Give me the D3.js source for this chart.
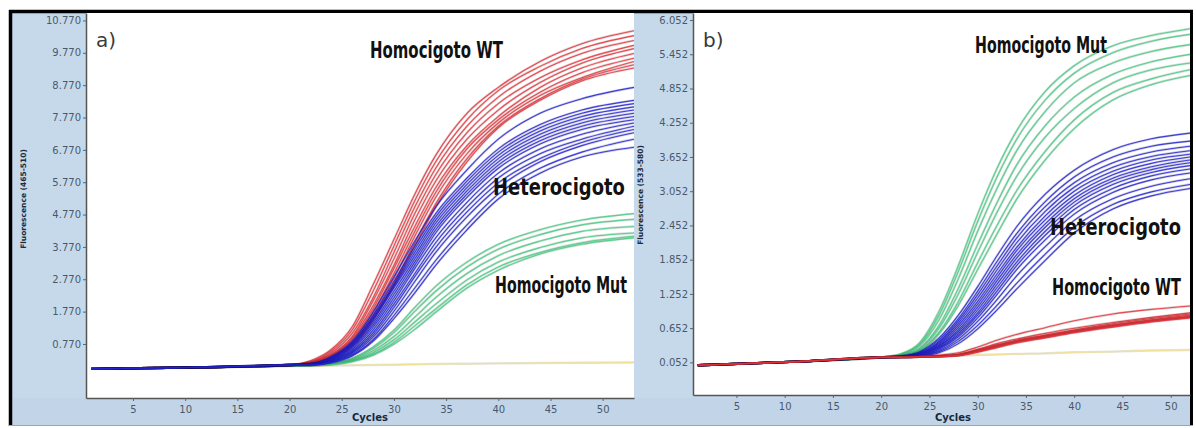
<!DOCTYPE html>
<meta charset="utf-8">
<style>
  body { margin: 0; padding: 0; background: #fff; }
  svg { display: block; }
  .tick text { font-family: "DejaVu Sans", sans-serif; font-size: 10px; fill: #4a596a; }
  .tick line { stroke: #5a6470; }
  .label { font-family: "DejaVu Sans", sans-serif; font-weight: bold; fill: #111; }
</style>
<body>
<svg id="vis"></svg>
<script src="https://d3js.org/d3.v7.min.js"></script>
<script>

var width = 1196, height = 428;

const cyclesA = [1, 12, 20, 22, 24, 26, 28, 30, 32, 34, 37, 40, 44, 48, 53];
const cyclesB = [1, 12, 20, 22, 24, 26, 28, 30, 32, 34, 37, 40, 44, 48, 52];

const xTicks = [5, 10, 15, 20, 25, 30, 35, 40, 45, 50];
const yTicksA = [0.77, 1.77, 2.77, 3.77, 4.77, 5.77, 6.77, 7.77, 8.77, 9.77, 10.77];
const yTicksB = [0.052, 0.652, 1.252, 1.852, 2.452, 3.052, 3.652, 4.252, 4.852, 5.452, 6.052];

// panel a : Fluorescence (465-510)
const wtA = [
  [0.00,0.05,0.12,0.25,0.60,1.30,2.60,4.00,5.40,6.60,7.90,8.70,9.50,10.05,10.45],
  [0.00,0.05,0.12,0.22,0.55,1.20,2.40,3.80,5.20,6.40,7.70,8.60,9.35,9.90,10.30],
  [0.00,0.05,0.12,0.20,0.50,1.10,2.20,3.60,5.00,6.20,7.50,8.40,9.20,9.75,10.15],
  [0.00,0.05,0.12,0.20,0.45,1.00,2.10,3.40,4.80,6.00,7.30,8.20,9.00,9.55,10.00],
  [0.00,0.05,0.12,0.19,0.42,0.95,1.95,3.20,4.60,5.80,7.10,8.00,8.85,9.45,9.90],
  [0.00,0.05,0.12,0.18,0.40,0.90,1.85,3.10,4.40,5.60,6.90,7.80,8.70,9.30,9.75],
  [0.00,0.05,0.12,0.18,0.38,0.85,1.75,2.95,4.25,5.45,6.80,7.70,8.55,9.15,9.60],
  [0.00,0.05,0.12,0.17,0.35,0.80,1.65,2.80,4.10,5.30,6.65,7.60,8.45,9.00,9.50],
  [0.00,0.05,0.12,0.16,0.32,0.75,1.55,2.65,3.90,5.10,6.50,7.50,8.35,8.95,9.40],
  [0.00,0.05,0.12,0.15,0.30,0.70,1.50,2.60,3.80,5.00,6.40,7.45,8.30,8.90,9.30]
];
const hetA = [
  [0.00,0.05,0.12,0.16,0.38,0.85,1.75,2.85,3.95,5.00,6.15,7.10,7.90,8.35,8.70],
  [0.00,0.05,0.12,0.16,0.36,0.80,1.65,2.70,3.80,4.80,5.90,6.80,7.55,8.00,8.30],
  [0.00,0.05,0.12,0.15,0.34,0.78,1.60,2.60,3.70,4.70,5.80,6.70,7.45,7.90,8.20],
  [0.00,0.05,0.12,0.15,0.33,0.75,1.55,2.55,3.60,4.60,5.70,6.60,7.35,7.80,8.10],
  [0.00,0.05,0.12,0.15,0.32,0.72,1.50,2.50,3.50,4.50,5.60,6.50,7.25,7.70,8.00],
  [0.00,0.05,0.12,0.14,0.30,0.68,1.42,2.40,3.40,4.40,5.50,6.40,7.15,7.60,7.90],
  [0.00,0.05,0.12,0.14,0.28,0.64,1.35,2.30,3.30,4.30,5.40,6.30,7.05,7.50,7.80],
  [0.00,0.05,0.12,0.14,0.27,0.60,1.28,2.20,3.20,4.20,5.30,6.20,6.95,7.40,7.70],
  [0.00,0.05,0.12,0.13,0.26,0.56,1.20,2.10,3.10,4.05,5.15,6.05,6.80,7.25,7.60],
  [0.00,0.05,0.12,0.13,0.24,0.52,1.12,2.00,2.95,3.90,5.00,5.90,6.65,7.10,7.50],
  [0.00,0.05,0.12,0.13,0.23,0.50,1.05,1.90,2.85,3.75,4.85,5.75,6.50,7.00,7.40],
  [0.00,0.05,0.12,0.12,0.22,0.46,0.98,1.78,2.70,3.60,4.70,5.60,6.40,6.90,7.30],
  [0.00,0.05,0.12,0.12,0.20,0.42,0.90,1.65,2.50,3.35,4.45,5.40,6.20,6.70,7.10],
  [0.00,0.05,0.12,0.12,0.19,0.40,0.85,1.55,2.35,3.20,4.30,5.25,6.05,6.55,6.85]
];
const mutA = [
  [0.00,0.05,0.10,0.12,0.18,0.33,0.68,1.20,1.90,2.55,3.30,3.85,4.30,4.60,4.80],
  [0.00,0.05,0.10,0.12,0.17,0.31,0.63,1.12,1.78,2.40,3.15,3.70,4.15,4.45,4.62],
  [0.00,0.05,0.10,0.11,0.16,0.28,0.56,1.00,1.60,2.20,2.95,3.50,3.95,4.25,4.40],
  [0.00,0.05,0.10,0.11,0.15,0.26,0.50,0.90,1.45,2.00,2.75,3.30,3.75,4.05,4.20],
  [0.00,0.05,0.10,0.11,0.14,0.24,0.45,0.82,1.33,1.85,2.60,3.15,3.60,3.90,4.10],
  [0.00,0.05,0.10,0.10,0.13,0.22,0.42,0.76,1.22,1.75,2.50,3.05,3.55,3.85,4.05]
];
const blankA = [0.00,0.04,0.08,0.09,0.10,0.11,0.12,0.13,0.14,0.15,0.16,0.17,0.18,0.19,0.20];

// panel b : Fluorescence (533-580)
const mutB = [
  [0.00,0.07,0.14,0.20,0.40,0.95,1.75,2.65,3.45,4.10,4.80,5.25,5.60,5.78,5.90],
  [0.00,0.07,0.14,0.19,0.37,0.88,1.65,2.52,3.30,3.95,4.65,5.12,5.48,5.68,5.80],
  [0.00,0.07,0.14,0.18,0.34,0.80,1.52,2.35,3.10,3.75,4.45,4.95,5.30,5.50,5.62],
  [0.00,0.07,0.14,0.17,0.30,0.70,1.35,2.12,2.85,3.50,4.20,4.70,5.10,5.32,5.45],
  [0.00,0.07,0.14,0.17,0.28,0.65,1.25,1.98,2.68,3.30,4.00,4.50,4.95,5.18,5.30],
  [0.00,0.07,0.14,0.16,0.26,0.58,1.12,1.80,2.45,3.05,3.75,4.30,4.78,5.02,5.18],
  [0.00,0.07,0.14,0.16,0.25,0.55,1.05,1.68,2.30,2.90,3.60,4.15,4.65,4.92,5.08]
];
const hetB = [
  [0.00,0.07,0.14,0.16,0.24,0.48,0.88,1.38,1.92,2.42,3.00,3.42,3.78,3.97,4.07],
  [0.00,0.07,0.14,0.16,0.23,0.45,0.82,1.30,1.82,2.30,2.87,3.30,3.65,3.84,3.93],
  [0.00,0.07,0.14,0.16,0.22,0.42,0.78,1.24,1.74,2.22,2.78,3.20,3.55,3.74,3.84],
  [0.00,0.07,0.14,0.15,0.21,0.40,0.74,1.18,1.67,2.14,2.70,3.12,3.47,3.66,3.76],
  [0.00,0.07,0.14,0.15,0.20,0.38,0.70,1.12,1.60,2.06,2.62,3.05,3.40,3.60,3.70],
  [0.00,0.07,0.14,0.15,0.20,0.36,0.66,1.07,1.54,2.00,2.55,2.98,3.34,3.54,3.65],
  [0.00,0.07,0.14,0.15,0.19,0.34,0.62,1.02,1.48,1.93,2.48,2.92,3.28,3.48,3.60],
  [0.00,0.07,0.14,0.15,0.19,0.33,0.59,0.97,1.42,1.87,2.42,2.86,3.23,3.43,3.55],
  [0.00,0.07,0.14,0.15,0.18,0.31,0.56,0.92,1.36,1.80,2.35,2.80,3.17,3.38,3.50],
  [0.00,0.07,0.14,0.15,0.18,0.30,0.53,0.88,1.30,1.74,2.28,2.73,3.10,3.32,3.44],
  [0.00,0.07,0.14,0.15,0.17,0.28,0.50,0.83,1.24,1.67,2.20,2.65,3.03,3.25,3.37],
  [0.00,0.07,0.14,0.14,0.17,0.26,0.46,0.77,1.15,1.56,2.08,2.54,2.92,3.14,3.27],
  [0.00,0.07,0.14,0.14,0.16,0.24,0.42,0.70,1.05,1.43,1.95,2.42,2.82,3.04,3.17],
  [0.00,0.07,0.14,0.14,0.16,0.22,0.38,0.64,0.97,1.33,1.84,2.32,2.74,2.97,3.10]
];
const wtB = [
  [0.00,0.07,0.14,0.15,0.16,0.18,0.22,0.32,0.44,0.54,0.66,0.78,0.90,0.98,1.04],
  [0.00,0.07,0.14,0.14,0.15,0.16,0.19,0.28,0.38,0.46,0.56,0.65,0.75,0.84,0.92],
  [0.00,0.07,0.14,0.14,0.15,0.16,0.19,0.27,0.36,0.44,0.53,0.62,0.73,0.82,0.90],
  [0.00,0.07,0.14,0.14,0.15,0.16,0.18,0.26,0.35,0.43,0.52,0.61,0.71,0.80,0.88],
  [0.00,0.07,0.14,0.14,0.15,0.16,0.18,0.25,0.34,0.42,0.51,0.60,0.70,0.79,0.86],
  [0.00,0.07,0.14,0.14,0.15,0.16,0.18,0.25,0.33,0.41,0.50,0.59,0.69,0.78,0.85],
  [0.00,0.07,0.14,0.14,0.15,0.15,0.17,0.24,0.32,0.40,0.49,0.58,0.68,0.77,0.84],
  [0.00,0.07,0.14,0.14,0.15,0.15,0.17,0.23,0.31,0.39,0.48,0.57,0.67,0.76,0.83]
];
const blankB = [0.00,0.07,0.14,0.15,0.15,0.16,0.17,0.18,0.19,0.20,0.21,0.23,0.24,0.26,0.27];

const RED = "#e8333a", BLUE = "#2424d6", GREEN = "#45cc82", YELLOW = "#f2e08a";

var svg = d3.select("#vis").attr("width", width).attr("height", height);

// frame and light blue panels
svg.append("rect").attr("x", 9).attr("y", 10).attr("width", 1184).attr("height", 416).attr("fill", "#c6d9eb");
svg.append("rect").attr("x", 12).attr("y", 398).attr("width", 1178).attr("height", 27).attr("fill", "#c2d5e8");
svg.append("line").attr("x1", 9).attr("x2", 1193).attr("y1", 11.5).attr("y2", 11.5).attr("stroke", "#000").attr("stroke-width", 3.5);
svg.append("line").attr("x1", 10.5).attr("x2", 10.5).attr("y1", 10).attr("y2", 426).attr("stroke", "#000").attr("stroke-width", 3.5);
svg.append("line").attr("x1", 1191.5).attr("x2", 1191.5).attr("y1", 10).attr("y2", 426).attr("stroke", "#000").attr("stroke-width", 3);
svg.append("line").attr("x1", 9).attr("x2", 1193).attr("y1", 425.5).attr("y2", 425.5).attr("stroke", "#9aa6b2").attr("stroke-width", 1);

var line = d3.line().curve(d3.curveMonotoneX);

function drawPanel(p) {
  var x = d3.scaleLinear().domain(p.xDomain).range([p.left, p.right]);
  var y = d3.scaleLinear().domain(p.yDomain).range([p.bottom, p.top]);

  var g = svg.append("g");
  g.append("rect").attr("x", p.left).attr("y", p.top)
    .attr("width", p.right - p.left).attr("height", p.bottom - p.top).attr("fill", "#fff");

  var clipId = "clip" + p.name;
  g.append("clipPath").attr("id", clipId).append("rect")
    .attr("x", p.left).attr("y", p.top).attr("width", p.right - p.left).attr("height", p.bottom - p.top);

  var curves = g.append("g").attr("clip-path", "url(#" + clipId + ")");
  p.groups.forEach(function(grp) {
    grp.rows.forEach(function(row) {
      var pts = row.map(function(v, i) { return [x(p.cycles[i]), y(v)]; });
      curves.append("path").attr("d", line(pts)).attr("fill", "none")
        .attr("stroke", d3.color(grp.color).darker(1.6)).attr("stroke-opacity", 0.22).attr("stroke-width", 2.4);
      curves.append("path").attr("d", line(pts)).attr("fill", "none")
        .attr("stroke", grp.color).attr("stroke-opacity", 0.85).attr("stroke-width", 1.1);
    });
  });

  // axes
  var xAxis = g.append("g").attr("transform", "translate(0," + p.bottom + ")")
    .call(d3.axisBottom(x).tickValues(xTicks).tickSize(3).tickSizeOuter(0).tickPadding(5));
  var yAxis = g.append("g").attr("transform", "translate(" + p.left + ",0)")
    .call(d3.axisLeft(y).tickValues(p.yTicks).tickSize(3).tickSizeOuter(0).tickPadding(2).tickFormat(d3.format(".3f")));
  [xAxis, yAxis].forEach(function(a) { a.select(".domain").attr("stroke", "#555").attr("stroke-width", 1.5); });

  g.append("text").attr("x", p.cyclesX).attr("y", 421).attr("text-anchor", "middle")
    .attr("font-family", "DejaVu Sans").attr("font-weight", "bold").attr("font-size", 10).attr("fill", "#18283a")
    .text("Cycles");

  g.append("text").attr("transform", "translate(" + p.titleX + "," + p.titleY + ") rotate(-90)")
    .attr("text-anchor", "middle").attr("font-family", "DejaVu Sans").attr("font-weight", "bold")
    .attr("font-size", 7.5).attr("fill", "#1d2b3a")
    .text(p.title);

  g.append("text").attr("x", p.left + 10).attr("y", 47).attr("font-family", "DejaVu Sans")
    .attr("font-size", 20).attr("fill", "#3a3a3a").text(p.name + ")");

  // group labels: squeeze horizontally to the width they take in the picture
  p.labels.forEach(function(l) {
    var t = g.append("text").attr("class", "label").attr("font-size", 23).text(l.text);
    var k = l.w / t.node().getComputedTextLength();
    t.attr("transform", "translate(" + l.x + "," + l.y + ") scale(" + k + ",1)");
  });
}

drawPanel({
  name: "a", left: 86, right: 634, top: 13, bottom: 398,
  xDomain: [0.5, 53], yDomain: [-0.9, 11.0], yTicks: yTicksA, cycles: cyclesA,
  cyclesX: 370, titleX: 26, titleY: 199, title: "Fluorescence (465-510)",
  groups: [
    { color: YELLOW, rows: [blankA] },
    { color: GREEN, rows: mutA },
    { color: RED, rows: wtA },
    { color: BLUE, rows: hetA }
  ],
  labels: [
    { text: "Homocigoto WT", x: 370, y: 58, w: 133 },
    { text: "Heterocigoto", x: 493, y: 195, w: 132 },
    { text: "Homocigoto Mut", x: 495, y: 293, w: 132 }
  ]
});

drawPanel({
  name: "b", left: 693, right: 1190, top: 13, bottom: 395,
  xDomain: [0.5, 52], yDomain: [-0.52, 6.175], yTicks: yTicksB, cycles: cyclesB,
  cyclesX: 953, titleX: 643, titleY: 195, title: "Fluorescence (533-580)",
  groups: [
    { color: YELLOW, rows: [blankB] },
    { color: GREEN, rows: mutB },
    { color: BLUE, rows: hetB },
    { color: RED, rows: wtB }
  ],
  labels: [
    { text: "Homocigoto Mut", x: 975, y: 53, w: 132 },
    { text: "Heterocigoto", x: 1050, y: 235, w: 131 },
    { text: "Homocigoto WT", x: 1052, y: 295, w: 129 }
  ]
});

</script>
</body>
